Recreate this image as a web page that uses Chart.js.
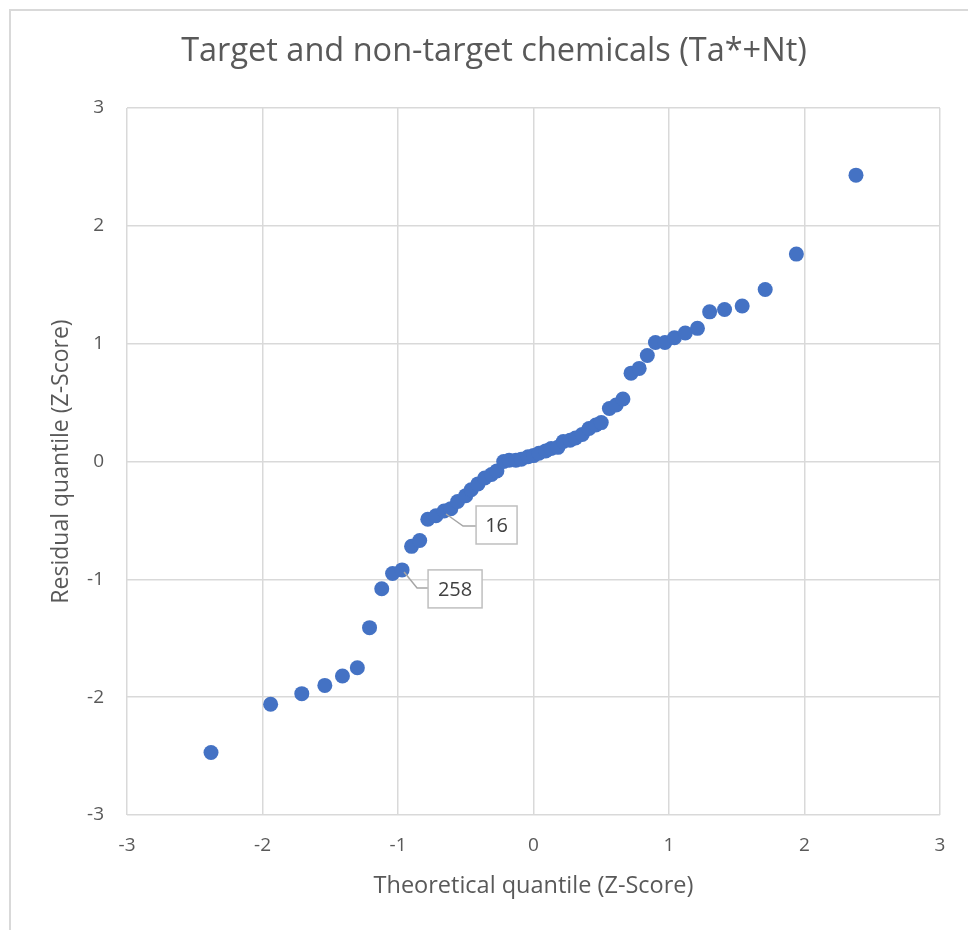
<!DOCTYPE html>
<html>
<head>
<meta charset="utf-8">
<script src="https://cdn.jsdelivr.net/npm/chart.js@4"></script>
<style>
  html, body { margin: 0; padding: 0; background: #fff; }
  canvas { display: block; }
</style>
</head>
<body>
<canvas id="c" width="968" height="930"></canvas>
<script>
// Theoretical quantiles (x) and residual quantiles (y)
const theoretical = [-2.38,-1.94,-1.71,-1.54,-1.41,-1.30,-1.21,-1.12,-1.04,-0.97,-0.90,-0.84,-0.78,-0.72,-0.66,-0.61,-0.56,-0.50,-0.46,-0.41,-0.36,-0.31,-0.27,-0.22,-0.18,-0.13,-0.09,-0.04,0.00,0.04,0.09,0.13,0.18,0.22,0.27,0.31,0.36,0.41,0.46,0.50,0.56,0.61,0.66,0.72,0.78,0.84,0.90,0.97,1.04,1.12,1.21,1.30,1.41,1.54,1.71,1.94,2.38];
const residual = [-2.47,-2.06,-1.97,-1.90,-1.82,-1.75,-1.41,-1.08,-0.95,-0.92,-0.72,-0.67,-0.49,-0.46,-0.42,-0.40,-0.34,-0.29,-0.24,-0.19,-0.14,-0.11,-0.08,0.00,0.01,0.01,0.02,0.04,0.05,0.07,0.09,0.11,0.12,0.17,0.18,0.20,0.23,0.28,0.31,0.33,0.45,0.48,0.53,0.75,0.79,0.90,1.01,1.01,1.05,1.09,1.13,1.27,1.29,1.32,1.46,1.76,2.43];
const labelIndices = [9, 14];
const labelTexts = ["258", "16"];
const axisTicks = [-3, -2, -1, 0, 1, 2, 3];

const titleText = "Target and non-target chemicals (Ta*+Nt)";
const xTitle = "Theoretical quantile (Z-Score)";
const yTitle = "Residual quantile (Z-Score)";

const FONT = "'Open Sans', Lato, sans-serif";
const TXT = "#595959";
const GRID = "#d9d9d9";

const points = theoretical.map((x, i) => ({ x: x, y: residual[i] }));

// Per-label box geometry relative to the point (px)
const labelGeom = [
  { box: [26, 0, 54, 38], leader: [[2, 2], [15, 18], [26, 18]] },
  { box: [32, -5, 41, 38], leader: [[2, 3], [19, 15], [32, 15]] }
];

const frame = {
  id: 'frame',
  beforeDraw(chart) {
    const ctx = chart.ctx;
    ctx.save();
    ctx.fillStyle = '#fff';
    ctx.fillRect(0, 0, chart.width, chart.height);
    ctx.strokeStyle = GRID;
    ctx.lineWidth = 2;
    ctx.beginPath();
    ctx.moveTo(10, chart.height);
    ctx.lineTo(10, 10);
    ctx.lineTo(chart.width, 10);
    ctx.stroke();
    ctx.restore();
  }
};

const dataLabels = {
  id: 'dataLabels',
  afterDatasetsDraw(chart) {
    const ctx = chart.ctx;
    const meta = chart.getDatasetMeta(0);
    ctx.save();
    labelIndices.forEach((idx, k) => {
      const el = meta.data[idx];
      const g = labelGeom[k];
      const px = el.x, py = el.y;
      ctx.strokeStyle = '#a6a6a6';
      ctx.lineWidth = 1.5;
      ctx.beginPath();
      g.leader.forEach((p, j) => {
        if (j === 0) ctx.moveTo(px + p[0], py + p[1]);
        else ctx.lineTo(px + p[0], py + p[1]);
      });
      ctx.stroke();
      const [bx, by, bw, bh] = g.box;
      ctx.fillStyle = '#fff';
      ctx.fillRect(px + bx, py + by, bw, bh);
      ctx.strokeStyle = '#bfbfbf';
      ctx.lineWidth = 1.5;
      ctx.strokeRect(px + bx, py + by, bw, bh);
      ctx.fillStyle = '#404040';
      ctx.font = "20px " + FONT;
      ctx.textAlign = 'center';
      ctx.textBaseline = 'middle';
      ctx.fillText(labelTexts[k], px + bx + bw / 2, py + by + bh / 2 + 1);
    });
    ctx.restore();
  }
};

new Chart(document.getElementById('c'), {
  type: 'scatter',
  data: {
    datasets: [{
      data: points,
      backgroundColor: '#4472C4',
      borderColor: '#4472C4',
      borderWidth: 0,
      pointRadius: 7.5,
      pointHoverRadius: 7.5
    }]
  },
  options: {
    responsive: false,
    animation: false,
    layout: { padding: { left: 48, right: 28, top: 0, bottom: 0 } },
    plugins: {
      legend: { display: false },
      tooltip: { enabled: false },
      title: {
        display: true,
        text: titleText,
        color: TXT,
        font: { family: FONT, size: 32.5, weight: 'normal', lineHeight: 1.2 },
        padding: { top: 32, bottom: 37 }
      }
    },
    scales: {
      x: {
        type: 'linear',
        min: -3, max: 3,
        afterBuildTicks(scale) { scale.ticks = axisTicks.map(v => ({ value: v })); },
        afterFit(scale) { scale.height = 115; },
        grid: { color: GRID, lineWidth: 1.5, drawTicks: false },
        border: { display: false },
        ticks: {
          color: TXT, padding: 19,
          font: { family: FONT, size: 19 },
          callback: v => String(v)
        },
        title: {
          display: true, text: xTitle, color: TXT,
          font: { family: FONT, size: 23.5, lineHeight: 1.2 },
          padding: { top: 0, bottom: 30 }
        }
      },
      y: {
        type: 'linear',
        min: -3, max: 3,
        afterBuildTicks(scale) { scale.ticks = axisTicks.map(v => ({ value: v })); },
        afterFit(scale) { scale.width = 79; },
        grid: { color: GRID, lineWidth: 1.5, drawTicks: false },
        border: { display: false },
        ticks: {
          color: TXT, padding: 23,
          font: { family: FONT, size: 19 },
          callback: v => String(v)
        },
        title: {
          display: true, text: yTitle, color: TXT,
          font: { family: FONT, size: 23, lineHeight: 1.2 },
          padding: { top: 0, bottom: 0 }
        }
      }
    }
  },
  plugins: [frame, dataLabels]
});
</script>
</body>
</html>
